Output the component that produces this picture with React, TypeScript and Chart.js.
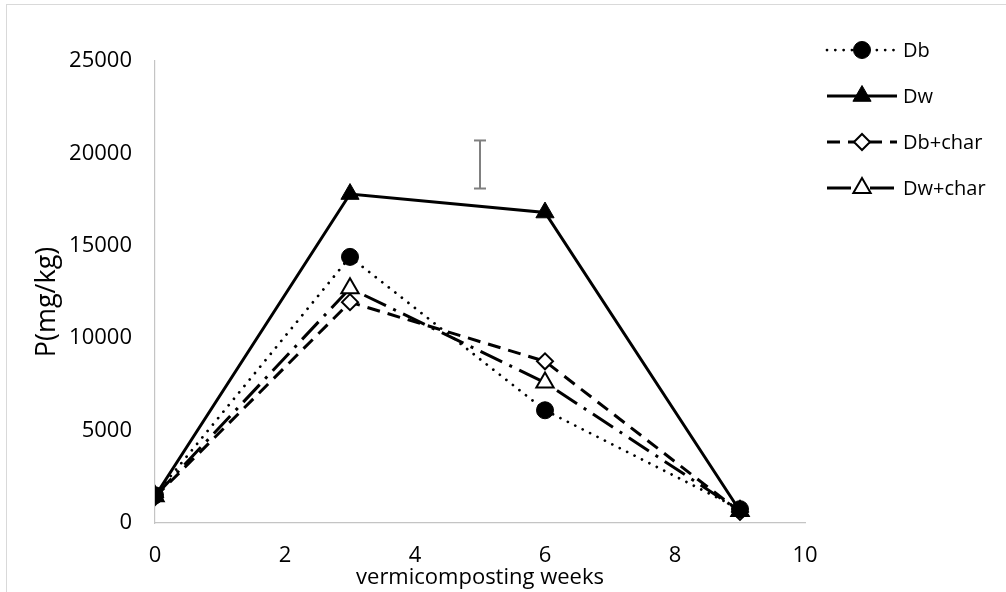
import React, { useEffect, useRef } from "react";
import { Chart, registerables } from "chart.js";
import { drawPoint } from "chart.js/helpers";

Chart.register(...registerables);

// ---- data ----
const weeks = [0, 3, 6, 9];
const dbValues = [1500, 14400, 6100, 750];
const dwValues = [1450, 17800, 16800, 650];
const dbCharValues = [1400, 11950, 8750, 600];
const dwCharValues = [1450, 12700, 7600, 650];
const seriesLabels = ["Db", "Dw", "Db+char", "Dw+char"];
const errorBarWeek = 5;
const errorBarRange = [18100, 20700];
const xAxisTitle = "vermicomposting weeks";
const yAxisTitle = "P(mg/kg)";
const xMin = 0;
const xMax = 10;
const xStep = 2;
const yMin = 0;
const yMax = 25000;
const yStep = 5000;

const FONT = "'Open Sans', 'DejaVu Sans', sans-serif";

const toPoints = (vals: number[]) => weeks.map((w, i) => ({ x: w, y: vals[i] }));

const legendPlugin = {
  id: "customLegend",
  afterDraw(chart: any) {
    const ctx = chart.ctx as CanvasRenderingContext2D;
    const area = chart.chartArea;
    const x0 = area.right + 22;
    const x1 = area.right + 92;
    const xm = (x0 + x1) / 2;
    const rowY0 = area.top - 11;
    const rowGap = 46;
    for (let i = 0; i < 4; i++) {
      const ds = chart.data.datasets[i];
      const y = rowY0 + i * rowGap;
      ctx.save();
      ctx.strokeStyle = ds.borderColor;
      ctx.lineWidth = ds.borderWidth;
      ctx.lineCap = ds.borderCapStyle || "butt";
      ctx.setLineDash(ds.borderDash || []);
      ctx.beginPath();
      ctx.moveTo(x0, y);
      ctx.lineTo(x1, y);
      ctx.stroke();
      ctx.restore();
      ctx.save();
      ctx.setLineDash([]);
      ctx.fillStyle = ds.pointBackgroundColor;
      ctx.strokeStyle = ds.pointBorderColor;
      ctx.lineWidth = ds.pointBorderWidth;
      drawPoint(ctx, { pointStyle: ds.pointStyle, rotation: 0, radius: ds.pointRadius, borderWidth: ds.pointBorderWidth }, xm, y);
      ctx.restore();
      ctx.save();
      ctx.fillStyle = "#000";
      ctx.font = `20px ${FONT}`;
      ctx.textBaseline = "middle";
      ctx.textAlign = "left";
      ctx.fillText(seriesLabels[i], x1 + 6, y + 1);
      ctx.restore();
    }
  },
};

// draws the rotated y-axis title slightly below the plot centre, as in the reference
const yTitlePlugin = {
  id: "yTitle",
  afterDraw(chart: any) {
    const ctx = chart.ctx as CanvasRenderingContext2D;
    const area = chart.chartArea;
    ctx.save();
    ctx.translate(47, (area.top + area.bottom) / 2 + 10);
    ctx.rotate(-Math.PI / 2);
    ctx.fillStyle = "#000";
    ctx.font = `27px ${FONT}`;
    ctx.textAlign = "center";
    ctx.textBaseline = "middle";
    ctx.fillText(yAxisTitle, 0, 0);
    ctx.restore();
  },
};

export default function App() {
  const ref = useRef<HTMLCanvasElement | null>(null);

  useEffect(() => {
    if (!ref.current) return;
    const chart = new Chart(ref.current, {
      type: "line",
      data: {
        datasets: [
          {
            label: seriesLabels[0],
            data: toPoints(dbValues),
            borderColor: "#000",
            borderWidth: 2.75,
            borderCapStyle: "round",
            borderDash: [0.01, 8.3],
            pointStyle: "circle",
            pointRadius: 8.5,
            pointBackgroundColor: "#000",
            pointBorderColor: "#000",
            pointBorderWidth: 1,
            order: 1,
          } as any,
          {
            label: seriesLabels[1],
            data: toPoints(dwValues),
            borderColor: "#000",
            borderWidth: 3,
            borderCapStyle: "butt",
            borderDash: [],
            pointStyle: "triangle",
            pointRadius: 10.5,
            pointBackgroundColor: "#000",
            pointBorderColor: "#000",
            pointBorderWidth: 1,
            order: 2,
          },
          {
            label: seriesLabels[2],
            data: toPoints(dbCharValues),
            borderColor: "#000",
            borderWidth: 3,
            borderCapStyle: "butt",
            borderDash: [13, 8],
            pointStyle: "rectRot",
            pointRadius: 8,
            pointBackgroundColor: "#fff",
            pointBorderColor: "#000",
            pointBorderWidth: 2,
            order: 4,
          },
          {
            label: seriesLabels[3],
            data: toPoints(dwCharValues),
            borderColor: "#000",
            borderWidth: 3,
            borderCapStyle: "butt",
            borderDash: [24, 8, 3, 8],
            pointStyle: "triangle",
            pointRadius: 10,
            pointBackgroundColor: "#fff",
            pointBorderColor: "#000",
            pointBorderWidth: 2,
            order: 3,
          },
          {
            label: "error",
            data: [
              { x: errorBarWeek, y: errorBarRange[0] },
              { x: errorBarWeek, y: errorBarRange[1] },
            ],
            borderColor: "#808080",
            borderWidth: 2,
            borderDash: [],
            pointStyle: "line",
            pointRadius: 6,
            pointBorderColor: "#808080",
            pointBackgroundColor: "#808080",
            pointBorderWidth: 2,
            order: 5,
          },
        ],
      },
      options: {
        responsive: false,
        animation: false,
        devicePixelRatio: 1,
        events: [],
        layout: { padding: { left: 0, top: 61, right: 201, bottom: 0 } },
        plugins: {
          legend: { display: false },
          tooltip: { enabled: false },
        },
        scales: {
          x: {
            type: "linear",
            min: xMin,
            max: xMax,
            ticks: {
              stepSize: xStep,
              color: "#000",
              padding: 20,
              font: { family: FONT, size: 22 },
              callback: (v: any) => String(v),
            },
            grid: { display: false, drawTicks: false },
            border: { display: true, color: "#c4c4c4", width: 1.2 },
            title: {
              display: true,
              text: xAxisTitle,
              color: "#000",
              font: { family: FONT, size: 22 },
              padding: { top: 0, bottom: 1 },
            },
            afterFit(scale: any) {
              scale.height = 69;
            },
          },
          y: {
            type: "linear",
            min: yMin,
            max: yMax,
            ticks: {
              stepSize: yStep,
              color: "#000",
              padding: 23,
              font: { family: FONT, size: 22 },
              callback: (v: any) => String(v),
            },
            grid: { display: false, drawTicks: false },
            border: { display: true, color: "#c4c4c4", width: 1.2 },
            title: { display: false, text: yAxisTitle },
            afterFit(scale: any) {
              scale.width = 155;
            },
          },
        },
      } as any,
      plugins: [legendPlugin, yTitlePlugin],
    });
    return () => chart.destroy();
  }, []);

  return (
    <div style={{ position: "absolute", left: 0, top: 0, width: 1006, height: 592, overflow: "hidden", background: "#fff" }}>
      <div
        style={{
          position: "absolute",
          left: 6,
          top: 4,
          width: 1100,
          height: 700,
          borderLeft: "1.5px solid #d9d9d9",
          borderTop: "1.5px solid #d9d9d9",
        }}
      />
      <canvas ref={ref} width={1006} height={592} style={{ position: "absolute", left: 0, top: 0 }} />
    </div>
  );
}
